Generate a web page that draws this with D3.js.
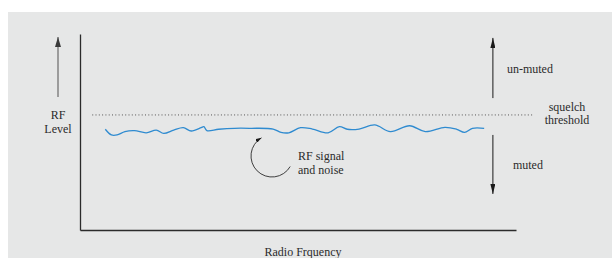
<!DOCTYPE html>
<html>
<head>
<meta charset="utf-8">
<script src="https://cdn.jsdelivr.net/npm/d3@7"></script>
<style>
  body { margin: 0; background: #fff; }
  svg text { font-family: "Liberation Serif", "Times New Roman", Times, "DejaVu Serif", serif !important; font-size: 12px; fill: #2b2b2b; }
</style>
</head>
<body>
<div id="chart"></div>
<script>
// RF level vs radio frequency, squelch sketch

// signal + noise trace (frequency 0-100, level 0-100)
var freq = [5.8, 7.2, 8.5, 10.3, 12.5, 15.2, 17.5, 19.2, 21.5, 23.7, 25.5, 27.8, 28.4, 29.1, 31.8, 35.4,
  38.9, 44.3, 46.1, 47.9, 50.6, 53.3, 56.9, 59.5, 61.3, 64.0, 67.6, 71.2, 75.6, 79.2, 83.7, 86.4, 88.2, 90.0, 92.7];
var level = [51.4, 48.5, 48.5, 50.2, 50.7, 49.6, 51.0, 49.3, 51.0, 52.2, 50.5, 52.2, 52.7, 50.7, 51.4, 51.9,
  51.9, 51.5, 49.8, 49.6, 52.2, 51.5, 49.6, 52.7, 51.4, 51.5, 53.6, 50.2, 53.2, 50.2, 52.4, 51.4, 49.8, 51.9, 51.9];

var threshold = 58.7;
var thresholdSpan = [2.8, 103.7];
var arrowFreq = 94.7;
var unmutedSpan = [67.3, 98];
var mutedSpan = [48.5, 18.4];

var labels = {
  yAxis: ["RF", "Level"],
  xAxis: "Radio Frquency",
  threshold: ["squelch", "threshold"],
  unmuted: "un-muted",
  muted: "muted",
  signal: ["RF signal", "and noise"]
};

var svgWidth = 612;
var svgHeight = 258;
var margin = { top: 34, right: 96, bottom: 28, left: 80 };
var width = svgWidth - margin.left - margin.right;
var height = svgHeight - margin.top - margin.bottom;

var svg = d3.select("#chart")
  .append("svg")
  .attr("width", svgWidth)
  .attr("height", svgHeight)
  .attr("font-family", "Liberation Serif, serif");

// grey panel
svg.append("rect")
  .attr("x", 8).attr("y", 12)
  .attr("width", svgWidth - 8).attr("height", svgHeight - 12)
  .attr("fill", "#e6e7e7");

var defs = svg.append("defs");
function marker(id, color, w, l) {
  defs.append("marker")
    .attr("id", id)
    .attr("viewBox", "0 0 " + l + " " + w)
    .attr("refX", l).attr("refY", w / 2)
    .attr("markerWidth", l).attr("markerHeight", w)
    .attr("markerUnits", "userSpaceOnUse")
    .attr("orient", "auto")
    .append("path")
    .attr("d", "M0,0L" + l + "," + (w / 2) + "L0," + w + "Z")
    .attr("fill", color);
}
marker("headBlack", "#1a1a1a", 5, 10);
marker("headGrey", "#3a3a3a", 6, 10);
marker("headSmall", "#1a1a1a", 4, 6);

var chartGroup = svg.append("g")
  .attr("transform", `translate(${margin.left}, ${margin.top})`);

var x = d3.scaleLinear().domain([0, 100]).range([0, width]);
var y = d3.scaleLinear().domain([0, 100]).range([height, 0]);

// axes, no ticks
chartGroup.append("g")
  .attr("transform", `translate(0, ${height})`)
  .call(d3.axisBottom(x).ticks(0).tickSize(0))
  .call(g => g.select(".domain").attr("stroke", "#2b2b2b").attr("stroke-width", 1.3));

chartGroup.append("g")
  .call(d3.axisLeft(y).ticks(0).tickSize(0))
  .call(g => g.select(".domain").attr("stroke", "#2b2b2b").attr("stroke-width", 1.3));

// squelch threshold
chartGroup.append("line")
  .attr("x1", x(thresholdSpan[0])).attr("x2", x(thresholdSpan[1]))
  .attr("y1", y(threshold)).attr("y2", y(threshold))
  .attr("stroke", "#555")
  .attr("stroke-width", 1)
  .attr("stroke-dasharray", "1,2.3");

// signal and noise
var points = freq.map((f, i) => [f, level[i]]);
chartGroup.append("path")
  .datum(points)
  .attr("fill", "none")
  .attr("stroke", "#2f8bd0")
  .attr("stroke-width", 1.3)
  .attr("d", d3.line().x(d => x(d[0])).y(d => y(d[1])).curve(d3.curveCatmullRom));

// un-muted / muted arrows
chartGroup.append("line")
  .attr("x1", x(arrowFreq)).attr("x2", x(arrowFreq))
  .attr("y1", y(unmutedSpan[0])).attr("y2", y(unmutedSpan[1]))
  .attr("stroke", "#1a1a1a").attr("stroke-width", 1)
  .attr("marker-end", "url(#headBlack)");

chartGroup.append("line")
  .attr("x1", x(arrowFreq)).attr("x2", x(arrowFreq))
  .attr("y1", y(mutedSpan[0])).attr("y2", y(mutedSpan[1]))
  .attr("stroke", "#1a1a1a").attr("stroke-width", 1)
  .attr("marker-end", "url(#headBlack)");

chartGroup.append("text")
  .attr("x", x(arrowFreq) + 14).attr("y", y(unmutedSpan[0]) - 25)
  .text(labels.unmuted);

chartGroup.append("text")
  .attr("x", x(arrowFreq) + 20).attr("y", y(mutedSpan[0]) + 34)
  .text(labels.muted);

chartGroup.append("text")
  .attr("text-anchor", "middle")
  .selectAll("tspan")
  .data(labels.threshold)
  .enter()
  .append("tspan")
  .attr("x", width + 51)
  .attr("y", (d, i) => y(threshold) - 4 + i * 13)
  .text(d => d);

// curved pointer to the trace
var cx = 272 - margin.left, cy = 156 - margin.top, r = 21;
var a0 = Math.PI / 6, a1 = Math.PI * 4 / 3;
var p = d3.path();
p.moveTo(cx + r * Math.cos(a0), cy + r * Math.sin(a0));
p.arc(cx, cy, r, a0, a1, false);
chartGroup.append("path")
  .attr("d", p.toString())
  .attr("fill", "none")
  .attr("stroke", "#2b2b2b")
  .attr("stroke-width", 0.9)
  .attr("marker-end", "url(#headSmall)");

chartGroup.append("text")
  .selectAll("tspan")
  .data(labels.signal)
  .enter()
  .append("tspan")
  .attr("x", 298 - margin.left)
  .attr("y", (d, i) => 160 - margin.top + i * 14)
  .text(d => d);

// y label with grey arrow
svg.append("line")
  .attr("x1", 58).attr("x2", 58)
  .attr("y1", 97).attr("y2", 37)
  .attr("stroke", "#8a8a8a").attr("stroke-width", 1.6)
  .attr("marker-end", "url(#headGrey)");

svg.append("text")
  .attr("text-anchor", "middle")
  .selectAll("tspan")
  .data(labels.yAxis)
  .enter()
  .append("tspan")
  .attr("x", 58)
  .attr("y", (d, i) => 119 + i * 14)
  .text(d => d);

chartGroup.append("text")
  .attr("text-anchor", "middle")
  .attr("x", 303 - margin.left)
  .attr("y", height + 26)
  .text(labels.xAxis);
</script>
</body>
</html>
